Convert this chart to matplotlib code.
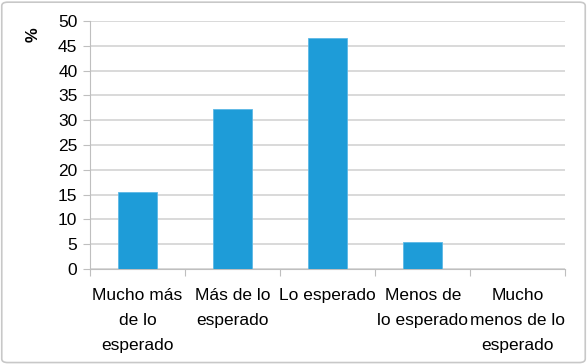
import matplotlib
matplotlib.use('Agg')
import matplotlib.pyplot as plt
from matplotlib.patches import FancyBboxPatch

# Categories and percentages
categories = ['Mucho más\nde lo\nesperado', 'Más de lo\nesperado', 'Lo esperado',
              'Menos de\nlo esperado', 'Mucho\nmenos de lo\nesperado']
percent = [15.6, 32.3, 46.6, 5.4, 0.0]
yticks = [0, 5, 10, 15, 20, 25, 30, 35, 40, 45, 50]

plt.rcParams['font.family'] = ['Liberation Sans', 'DejaVu Sans']

fig = plt.figure(figsize=(5.87, 3.64), dpi=100)
ax = fig.add_axes([0.1533, 0.261, 0.81, 0.681])

# outer border like the spreadsheet chart frame
frame = FancyBboxPatch((0.003, 0.004), 0.994, 0.99, boxstyle='round,pad=0,rounding_size=0.01',
                       transform=fig.transFigure, fill=False, edgecolor='#c8c8c8', linewidth=1.2)
fig.patches.append(frame)

x = range(len(categories))
ax.bar(x, percent, width=0.41, color='#1e9cd8', edgecolor='#5cb8e6', linewidth=0.6, zorder=3)

ax.set_xlim(-0.5, len(categories) - 0.5)
ax.set_ylim(0, 50)
ax.set_yticks(yticks)
ax.yaxis.grid(True, color='#cfcfcf', linewidth=1.1, zorder=0)
ax.set_axisbelow(True)

ax.set_xticks([i - 0.5 for i in range(len(categories) + 1)], minor=False)
ax.set_xticklabels([])
ax.set_xticks(list(x), minor=True)
ax.set_xticklabels(categories, minor=True, fontsize=12.5, linespacing=1.8)
ax.tick_params(axis='x', which='minor', length=0, pad=14)
ax.tick_params(axis='x', which='major', length=5, color='#bfbfbf', direction='out')
ax.tick_params(axis='y', length=5, color='#bfbfbf', labelsize=12.5, pad=4)

for s in ['top', 'right']:
    ax.spines[s].set_visible(False)
ax.spines['left'].set_color('#bfbfbf')
ax.spines['bottom'].set_color('#bfbfbf')

fig.text(0.057, 0.905, '%', rotation=90, fontsize=12, fontweight='bold', ha='center', va='center')

fig.savefig('out.png', dpi=100)
